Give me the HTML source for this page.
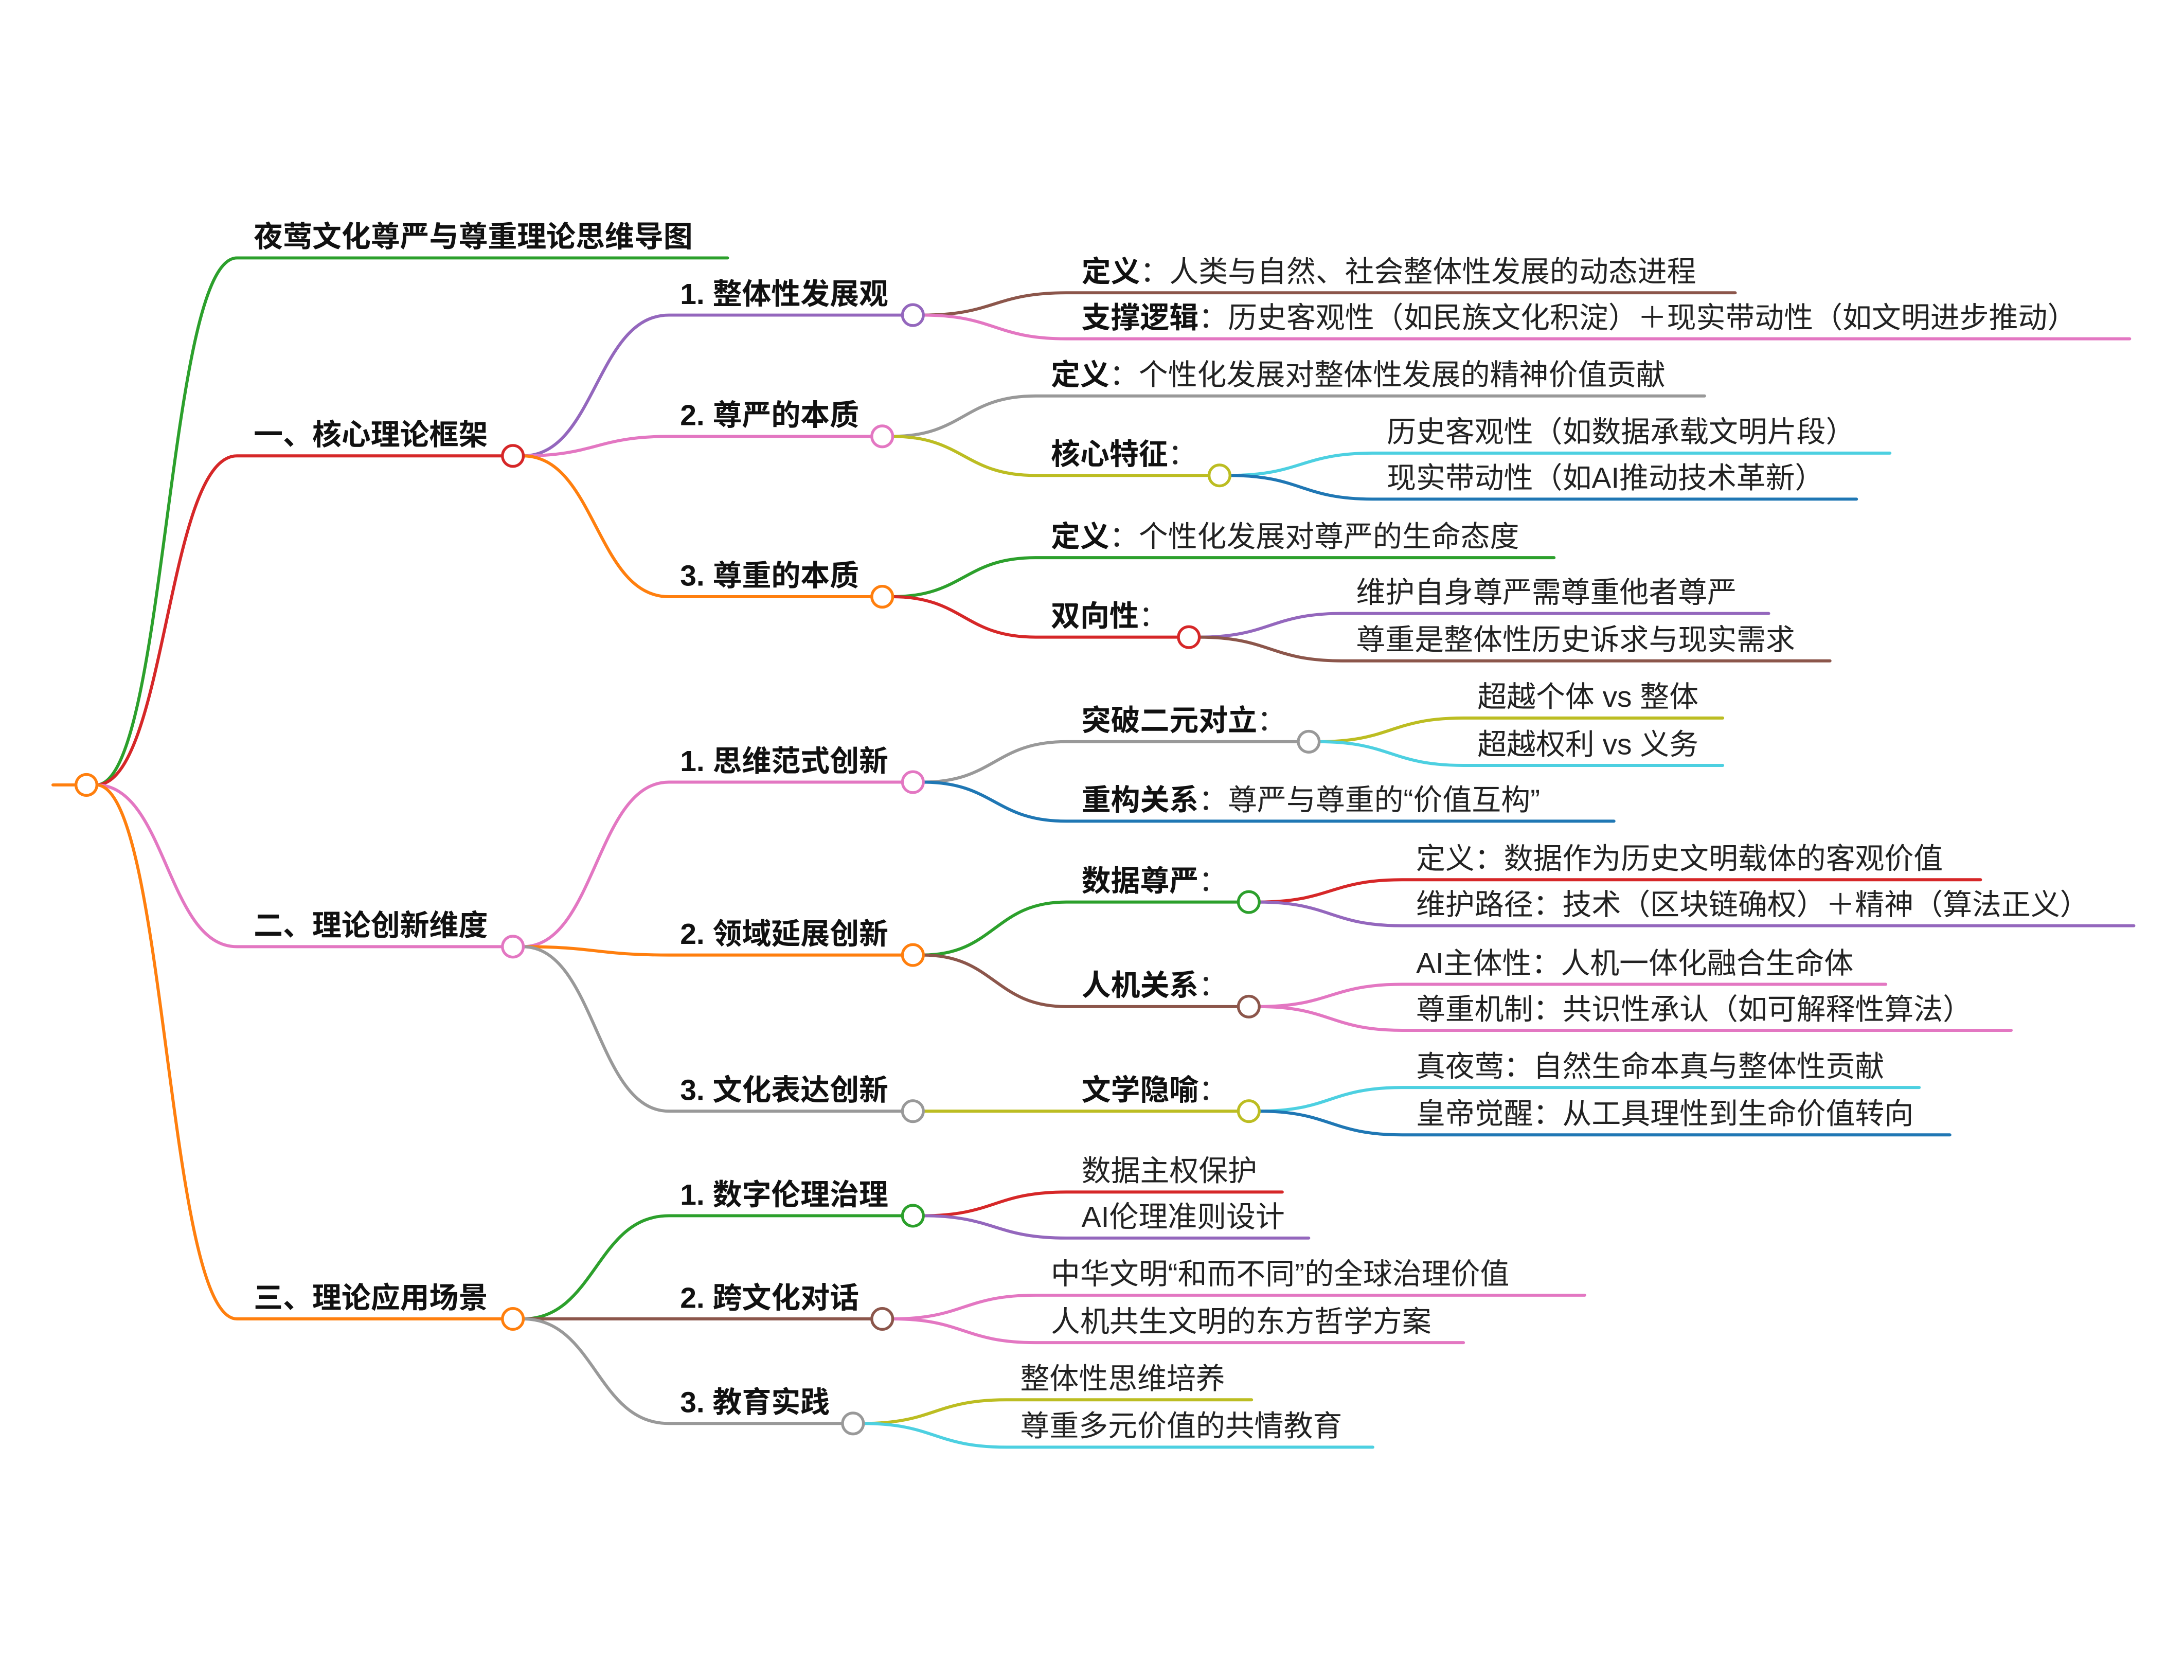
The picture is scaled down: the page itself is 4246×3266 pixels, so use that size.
<!DOCTYPE html>
<html><head><meta charset="utf-8"><style>
html,body{margin:0;padding:0;background:#fff;}
svg{display:block;}
text{font-family:"Liberation Sans","Noto Sans CJK SC",sans-serif;font-size:21px;fill:#222;}
.b{font-weight:bold;fill:#111;}
path{fill:none;stroke-width:2.2;stroke-linecap:round;}
circle{fill:#fff;stroke-width:2;}
</style></head><body>
<svg width="4246" height="3266" viewBox="0 0 1567 1205" preserveAspectRatio="none" xmlns="http://www.w3.org/2000/svg">
<path d="M38 563 L55 563" stroke="#ff7f0e"/>
<path d="M69 563 C119.5 563 119.5 185 170 185 L522 185" stroke="#2ca02c"/>
<path d="M69 563 C119.5 563 119.5 327 170 327 L361 327" stroke="#d62728"/>
<path d="M69 563 C119.5 563 119.5 679 170 679 L361 679" stroke="#e377c2"/>
<path d="M69 563 C119.5 563 119.5 946 170 946 L361 946" stroke="#ff7f0e"/>
<path d="M375 327 C427.5 327 427.5 226 480 226 L648 226" stroke="#9467bd"/>
<path d="M375 327 C427.5 327 427.5 313 480 313 L626 313" stroke="#e377c2"/>
<path d="M375 327 C427.5 327 427.5 428 480 428 L626 428" stroke="#ff7f0e"/>
<path d="M375 679 C427.5 679 427.5 561 480 561 L648 561" stroke="#e377c2"/>
<path d="M375 679 C427.5 679 427.5 685 480 685 L648 685" stroke="#ff7f0e"/>
<path d="M375 679 C427.5 679 427.5 797 480 797 L648 797" stroke="#999"/>
<path d="M375 946 C427.5 946 427.5 872 480 872 L648 872" stroke="#2ca02c"/>
<path d="M375 946 C427.5 946 427.5 946 480 946 L626 946" stroke="#8c564b"/>
<path d="M375 946 C427.5 946 427.5 1021 480 1021 L605 1021" stroke="#999"/>
<path d="M662 226 C713.5 226 713.5 210 765 210 L1245 210" stroke="#8c564b"/>
<path d="M662 226 C713.5 226 713.5 243 765 243 L1528 243" stroke="#e377c2"/>
<path d="M640 313 C691.5 313 691.5 284 743 284 L1223 284" stroke="#999"/>
<path d="M640 313 C691.5 313 691.5 341 743 341 L868 341" stroke="#bcbd22"/>
<path d="M882 341 C933.5 341 933.5 325 985 325 L1356 325" stroke="#4dd0e1"/>
<path d="M882 341 C933.5 341 933.5 358 985 358 L1332 358" stroke="#1f77b4"/>
<path d="M640 428 C691.5 428 691.5 400 743 400 L1115 400" stroke="#2ca02c"/>
<path d="M640 428 C691.5 428 691.5 457 743 457 L846 457" stroke="#d62728"/>
<path d="M860 457 C911.5 457 911.5 440 963 440 L1269 440" stroke="#9467bd"/>
<path d="M860 457 C911.5 457 911.5 474 963 474 L1313 474" stroke="#8c564b"/>
<path d="M662 561 C713.5 561 713.5 532 765 532 L932 532" stroke="#999"/>
<path d="M662 561 C713.5 561 713.5 589 765 589 L1158 589" stroke="#1f77b4"/>
<path d="M946 532 C998 532 998 515 1050 515 L1236 515" stroke="#bcbd22"/>
<path d="M946 532 C998 532 998 549 1050 549 L1236 549" stroke="#4dd0e1"/>
<path d="M662 685 C713.5 685 713.5 647 765 647 L889 647" stroke="#2ca02c"/>
<path d="M662 685 C713.5 685 713.5 722 765 722 L889 722" stroke="#8c564b"/>
<path d="M903 647 C954.5 647 954.5 631 1006 631 L1421 631" stroke="#d62728"/>
<path d="M903 647 C954.5 647 954.5 664 1006 664 L1531 664" stroke="#9467bd"/>
<path d="M903 722 C954.5 722 954.5 706 1006 706 L1353 706" stroke="#e377c2"/>
<path d="M903 722 C954.5 722 954.5 739 1006 739 L1443 739" stroke="#e377c2"/>
<path d="M662 797 L889 797" stroke="#bcbd22"/>
<path d="M903 797 C954.5 797 954.5 780 1006 780 L1377 780" stroke="#4dd0e1"/>
<path d="M903 797 C954.5 797 954.5 814 1006 814 L1399 814" stroke="#1f77b4"/>
<path d="M662 872 C713.5 872 713.5 855 765 855 L920 855" stroke="#d62728"/>
<path d="M662 872 C713.5 872 713.5 888 765 888 L939 888" stroke="#9467bd"/>
<path d="M640 946 C691.5 946 691.5 929 743 929 L1137 929" stroke="#e377c2"/>
<path d="M640 946 C691.5 946 691.5 963 743 963 L1050 963" stroke="#e377c2"/>
<path d="M619 1021 C670.5 1021 670.5 1004 722 1004 L898 1004" stroke="#bcbd22"/>
<path d="M619 1021 C670.5 1021 670.5 1038 722 1038 L985 1038" stroke="#4dd0e1"/>
<circle cx="62" cy="563" r="7.5" stroke="#ff7f0e"/>
<circle cx="368" cy="327" r="7.5" stroke="#d62728"/>
<circle cx="368" cy="679" r="7.5" stroke="#e377c2"/>
<circle cx="368" cy="946" r="7.5" stroke="#ff7f0e"/>
<circle cx="655" cy="226" r="7.5" stroke="#9467bd"/>
<circle cx="633" cy="313" r="7.5" stroke="#e377c2"/>
<circle cx="633" cy="428" r="7.5" stroke="#ff7f0e"/>
<circle cx="875" cy="341" r="7.5" stroke="#bcbd22"/>
<circle cx="853" cy="457" r="7.5" stroke="#d62728"/>
<circle cx="655" cy="561" r="7.5" stroke="#e377c2"/>
<circle cx="655" cy="685" r="7.5" stroke="#ff7f0e"/>
<circle cx="655" cy="797" r="7.5" stroke="#999"/>
<circle cx="939" cy="532" r="7.5" stroke="#999"/>
<circle cx="896" cy="647" r="7.5" stroke="#2ca02c"/>
<circle cx="896" cy="722" r="7.5" stroke="#8c564b"/>
<circle cx="896" cy="797" r="7.5" stroke="#bcbd22"/>
<circle cx="655" cy="872" r="7.5" stroke="#2ca02c"/>
<circle cx="633" cy="946" r="7.5" stroke="#8c564b"/>
<circle cx="612" cy="1021" r="7.5" stroke="#999"/>
<text x="182" y="177" class="b">夜莺文化尊严与尊重理论思维导图</text>
<text x="182" y="319" class="b">一、核心理论框架</text>
<text x="182" y="671" class="b">二、理论创新维度</text>
<text x="182" y="938" class="b">三、理论应用场景</text>
<text x="488" y="218" class="b">1. 整体性发展观</text>
<text x="488" y="305" class="b">2. 尊严的本质</text>
<text x="488" y="420" class="b">3. 尊重的本质</text>
<text x="488" y="553" class="b">1. 思维范式创新</text>
<text x="488" y="677" class="b">2. 领域延展创新</text>
<text x="488" y="789" class="b">3. 文化表达创新</text>
<text x="488" y="864" class="b">1. 数字伦理治理</text>
<text x="488" y="938" class="b">2. 跨文化对话</text>
<text x="488" y="1013" class="b">3. 教育实践</text>
<text x="776" y="202"><tspan class="b">定义</tspan>：人类与自然、社会整体性发展的动态进程</text>
<text x="776" y="235"><tspan class="b">支撑逻辑</tspan>：历史客观性（如民族文化积淀）＋现实带动性（如文明进步推动）</text>
<text x="754" y="276"><tspan class="b">定义</tspan>：个性化发展对整体性发展的精神价值贡献</text>
<text x="754" y="333"><tspan class="b">核心特征</tspan>：</text>
<text x="995" y="317">历史客观性（如数据承载文明片段）</text>
<text x="995" y="350">现实带动性（如AI推动技术革新）</text>
<text x="754" y="392"><tspan class="b">定义</tspan>：个性化发展对尊严的生命态度</text>
<text x="754" y="449"><tspan class="b">双向性</tspan>：</text>
<text x="973" y="432">维护自身尊严需尊重他者尊严</text>
<text x="973" y="466">尊重是整体性历史诉求与现实需求</text>
<text x="776" y="524"><tspan class="b">突破二元对立</tspan>：</text>
<text x="1060" y="507">超越个体 vs 整体</text>
<text x="1060" y="541">超越权利 vs 义务</text>
<text x="776" y="581"><tspan class="b">重构关系</tspan>：尊严与尊重的“价值互构”</text>
<text x="776" y="639"><tspan class="b">数据尊严</tspan>：</text>
<text x="1016" y="623">定义：数据作为历史文明载体的客观价值</text>
<text x="1016" y="656">维护路径：技术（区块链确权）＋精神（算法正义）</text>
<text x="776" y="714"><tspan class="b">人机关系</tspan>：</text>
<text x="1016" y="698">AI主体性：人机一体化融合生命体</text>
<text x="1016" y="731">尊重机制：共识性承认（如可解释性算法）</text>
<text x="776" y="789"><tspan class="b">文学隐喻</tspan>：</text>
<text x="1016" y="772">真夜莺：自然生命本真与整体性贡献</text>
<text x="1016" y="806">皇帝觉醒：从工具理性到生命价值转向</text>
<text x="776" y="847">数据主权保护</text>
<text x="776" y="880">AI伦理准则设计</text>
<text x="754" y="921">中华文明“和而不同”的全球治理价值</text>
<text x="754" y="955">人机共生文明的东方哲学方案</text>
<text x="732" y="996">整体性思维培养</text>
<text x="732" y="1030">尊重多元价值的共情教育</text>
</svg>
</body></html>
